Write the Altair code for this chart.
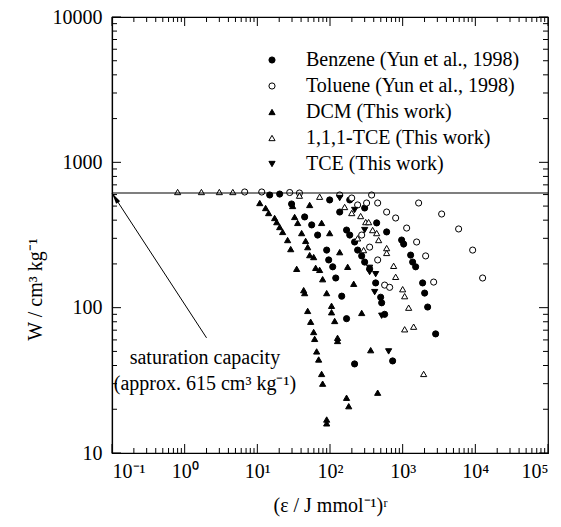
import altair as alt
import pandas as pd

# ---------------- data ----------------
benzene_x = [14.8, 20.3, 29.6, 44.8, 56, 67.6, 90, 96, 109, 120, 145, 169, 218,
             99, 136, 169, 187, 218, 240, 273, 300, 351, 425, 498, 514, 565, 728,
             187, 300, 439, 602, 968, 1032, 1288, 1372, 1509, 1883, 2007, 2207, 2843]
benzene_w = [596, 605, 517, 421, 371, 316, 249, 213, 191, 160, 120, 84, 41,
             551, 455, 342, 316, 283, 249, 227, 206, 185, 148, 118, 108, 90, 43,
             551, 485, 383, 332, 292, 274, 230, 206, 191, 148, 126, 101, 66]

toluene_x = [6.7, 11.5, 27.9, 38, 136, 199, 240, 319, 374, 453, 602, 801, 1135, 1557, 2071, 2670,
             1659, 3440, 5890, 9190, 12600,
             273, 351, 453, 565, 662]
toluene_w = [625, 625, 620, 615, 596, 568, 509, 525, 596, 525, 455, 414, 353, 283, 227, 150,
             525, 441, 348, 249, 160,
             316, 261, 213, 143, 138]

dcm_x = [10.8, 13, 14.3, 17.3, 18.5, 20.3, 22.3, 26.1, 28.8, 34.8, 43.4, 44.8, 49.3, 54.2,
         59.6, 61.5, 65.5, 69.8, 76.7, 79.2, 90, 90,
         30.6, 32.6, 35.9, 40.7, 46.2, 49.3, 52.5, 59.6, 63.5, 72, 79.2, 90, 105, 105, 116,
         127, 127, 169, 181,
         52.5, 76.7, 99, 136, 175, 212, 273, 363, 453]
dcm_w = [525, 485, 448, 414, 388, 359, 332, 292, 253, 185, 132, 126, 95, 80,
         68, 61, 50, 44, 35, 30, 17, 16,
         501, 421, 383, 326, 288, 261, 230, 223, 188, 182, 157, 126, 103, 93, 81,
         62, 59, 24, 21,
         509, 383, 326, 241, 191, 146, 92, 51, 26]

tce111_x = [0.8, 1.7, 3.0, 4.6, 38, 72, 159, 199, 264, 310, 340, 386, 439, 467, 602, 602,
            751, 801, 1000, 1065, 1209, 1065, 1416, 1944, 240, 290]
tce111_w = [625, 625, 625, 625, 590, 580, 493, 448, 427, 388, 388, 342, 326, 292, 257, 238,
            194, 163, 134, 120, 100, 71, 74, 35, 300, 249]

tce_x = [136, 218, 300, 351, 351, 425, 412, 514, 641]
tce_w = [568, 470, 342, 188, 176, 170, 128, 88, 50]

series_names = ["Benzene (Yun et al., 1998)", "Toluene (Yun et al., 1998)",
                "DCM (This work)", "1,1,1-TCE (This work)", "TCE (This work)"]
series_shapes = ["circle", "circle", "triangle-up", "triangle-up", "triangle-down"]
series_fills = ["black", "white", "black", "white", "black"]
series_strokes = ["black", "black", "black", "black", "black"]

saturation_w = 615
x_tick_values = [0.1, 1, 10, 100, 1000, 10000, 100000]
x_tick_labels = ["10⁻¹", "10⁰", "10¹", "10²", "10³", "10⁴", "10⁵"]
y_tick_values = [10, 100, 1000, 10000]
x_minor = [k * 10.0 ** d for d in range(-1, 5) for k in range(2, 10)]
y_minor = [k * 10.0 ** d for d in range(1, 4) for k in range(2, 10)]

annot_x = [1.9, 1.9]
annot_w = [45, 30]
annot_text = ["saturation capacity", "(approx. 615 cm³ kg⁻¹)"]
arrow_start = (2.0, 62)
arrow_end = (0.1, 615)

# ---------------- build tables ----------------
rows = []
for name, xs, ws in zip(series_names,
                        [benzene_x, toluene_x, dcm_x, tce111_x, tce_x],
                        [benzene_w, toluene_w, dcm_w, tce111_w, tce_w]):
    for xv, wv in zip(xs, ws):
        rows.append({"series": name, "x": xv, "w": wv})
df = pd.DataFrame(rows)

FONT = "Liberation Serif"
FS = 20
W, H = 436, 436

xscale = alt.Scale(type="log", domain=[0.1, 100000], nice=False)
yscale = alt.Scale(type="log", domain=[10, 10000], nice=False)

label_expr = " : ".join(
    f"datum.value < {v * 3.0} ? '{l}'" for v, l in zip(x_tick_values[:-1], x_tick_labels[:-1])
) + f" : '{x_tick_labels[-1]}'"

base_x = alt.X("x:Q", scale=xscale,
               axis=alt.Axis(values=x_tick_values, labelExpr=label_expr, ticks=False,
                             grid=False, labelPadding=8, labelFontSize=FS,
                             title="(ε / J mmol⁻¹)ʳ", titleFontSize=FS, titleFontWeight="normal",
                             titleY=52, titleBaseline="middle"))
base_y = alt.Y("w:Q", scale=yscale,
               axis=alt.Axis(values=y_tick_values, format="d", ticks=False, grid=False,
                             labelPadding=10, labelFontSize=FS,
                             title="W / cm³ kg⁻¹", titleFontSize=FS, titleFontWeight="normal",
                             titleX=-77, titleY=272, titleBaseline="middle"))

def leg():
    return alt.Legend(title=None, orient="none", legendX=150, legendY=33,
                      labelFont=FONT, labelFontSize=FS, labelColor="black", labelLimit=0,
                      symbolSize=38, symbolStrokeWidth=1, labelOffset=24, rowPadding=6,
                      padding=0)

points = alt.Chart(df).mark_point(filled=True, strokeWidth=1, opacity=1, size=38).encode(
    x=base_x,
    y=base_y,
    shape=alt.Shape("series:N", scale=alt.Scale(domain=series_names, range=series_shapes), legend=leg()),
    fill=alt.Fill("series:N", scale=alt.Scale(domain=series_names, range=series_fills), legend=leg()),
    stroke=alt.Stroke("series:N", scale=alt.Scale(domain=series_names, range=series_strokes), legend=leg()),
)

sat = alt.Chart(pd.DataFrame({"w": [saturation_w]})).mark_rule(color="black", strokeWidth=1.2).encode(
    y=alt.Y("w:Q", scale=yscale)
)

arrow_df = pd.DataFrame({"x": [arrow_start[0]], "w": [arrow_start[1]],
                         "x2": [arrow_end[0]], "w2": [arrow_end[1]]})
arrow_line = alt.Chart(arrow_df).mark_rule(color="black", strokeWidth=1).encode(
    x=alt.X("x:Q", scale=xscale), y=alt.Y("w:Q", scale=yscale),
    x2="x2:Q", y2="w2:Q")
head_df = pd.DataFrame({"x": [arrow_end[0]], "w": [arrow_end[1]]})
arrow_head = alt.Chart(head_df).mark_point(
    shape="M0,0L0.28,1.3L-0.28,1.3Z", filled=True, color="black", size=300, angle=327, opacity=1
).encode(x=alt.X("x:Q", scale=xscale), y=alt.Y("w:Q", scale=yscale))

annot = alt.Chart(pd.DataFrame({"x": annot_x, "w": annot_w, "t": annot_text})).mark_text(
    font=FONT, fontSize=FS, color="black", align="center", baseline="middle"
).encode(x=alt.X("x:Q", scale=xscale), y=alt.Y("w:Q", scale=yscale), text="t:N")

# inward ticks on all four sides
def xticks(vals, length):
    d = pd.DataFrame({"x": vals})
    bottom = alt.Chart(d).mark_rule(color="black", strokeWidth=1).encode(
        x=alt.X("x:Q", scale=xscale), y=alt.value(H), y2=alt.value(H - length))
    top = alt.Chart(d).mark_rule(color="black", strokeWidth=1).encode(
        x=alt.X("x:Q", scale=xscale), y=alt.value(0), y2=alt.value(length))
    return bottom + top

def yticks(vals, length):
    d = pd.DataFrame({"w": vals})
    left = alt.Chart(d).mark_rule(color="black", strokeWidth=1).encode(
        y=alt.Y("w:Q", scale=yscale), x=alt.value(0), x2=alt.value(length))
    right = alt.Chart(d).mark_rule(color="black", strokeWidth=1).encode(
        y=alt.Y("w:Q", scale=yscale), x=alt.value(W), x2=alt.value(W - length))
    return left + right

ticks = xticks(x_tick_values, 9) + xticks(x_minor, 5) + yticks(y_tick_values, 9) + yticks(y_minor, 5)

chart = alt.layer(points, sat, arrow_line, arrow_head, annot, ticks).properties(
    width=W, height=H,
    autosize=alt.AutoSizeParams(type="none"),
    padding={"left": 112, "top": 17, "right": 13, "bottom": 74},
    background="white",
).configure_view(stroke="black", strokeWidth=1.2).configure_axis(
    labelFont=FONT, titleFont=FONT, labelColor="black", titleColor="black",
    domainColor="black", domainWidth=1.2
).configure_legend(labelFont=FONT)

chart.save("out.html", embed_options={"renderer": "svg", "actions": False})
